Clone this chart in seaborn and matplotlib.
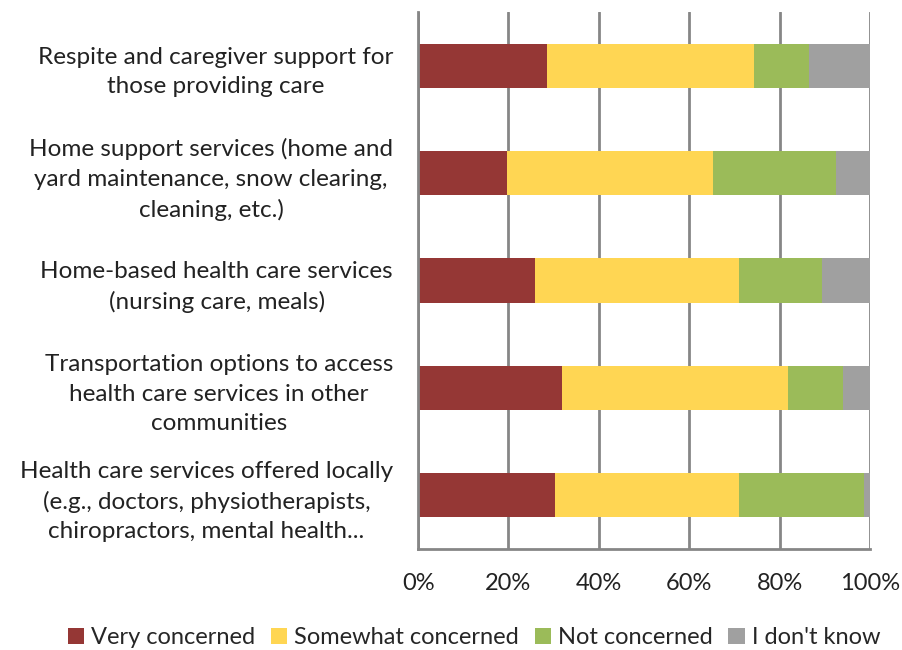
import pandas as pd
import matplotlib.pyplot as plt
import seaborn as sns
from matplotlib.patches import Patch

# dados (percentuais)
categorias = [
    "Respite and caregiver support for\nthose providing care",
    "Home support services (home and\nyard maintenance, snow clearing,\ncleaning, etc.)",
    "Home-based health care services\n(nursing care, meals)",
    "Transportation options to access\nhealth care services in other\ncommunities",
    "Health care services offered locally\n(e.g., doctors, physiotherapists,\nchiropractors, mental health...",
]
very_concerned = [28.6, 19.6, 25.9, 31.8, 30.4]
somewhat_concerned = [45.7, 45.6, 45.2, 50.1, 40.7]
not_concerned = [12.1, 27.3, 18.2, 12.1, 27.6]
dont_know = [13.6, 7.5, 10.7, 6.0, 1.3]

series_nomes = ["Very concerned", "Somewhat concerned", "Not concerned", "I don't know"]
cores = ["#953735", "#FFD653", "#9BBB59", "#A0A0A0"]

sns.set_style("white")
plt.rcParams["font.family"] = ["Lato", "DejaVu Sans"]

df = pd.DataFrame({
    "cat": categorias,
    "very": very_concerned,
    "some": somewhat_concerned,
    "notc": not_concerned,
    "dk": dont_know,
})
# somas acumuladas para empilhar
df["c1"] = df["very"]
df["c2"] = df["c1"] + df["some"]
df["c3"] = df["c2"] + df["notc"]
df["c4"] = df["c3"] + df["dk"]

fig = plt.figure(figsize=(9.03, 6.5), dpi=100)
ax = fig.add_axes([0.463, 0.1554, 0.5005, 0.8261])

# desenha do maior para o menor
for col, cor in zip(["c4", "c3", "c2", "c1"], cores[::-1]):
    sns.barplot(data=df, x=col, y="cat", color=cor, width=0.41, saturation=1,
                linewidth=0, errorbar=None, ax=ax, orient="h")

ax.set_xlim(0, 100)
ax.set_ylim(4.5, -0.5)
ax.set_xticks(range(0, 101, 20))
ax.set_xticklabels([f"{v}%" for v in range(0, 101, 20)], fontsize=17)
ax.set_yticks(range(len(categorias)))
ax.set_yticklabels(categorias, fontsize=17.5, multialignment="center", linespacing=1.5)
ax.set_yticks([i - 0.5 for i in range(len(categorias) + 1)], minor=True)
ax.set_xlabel("")
ax.set_ylabel("")

ax.set_axisbelow(True)
ax.grid(axis="x", color="#868686", linewidth=2)
ax.grid(axis="y", visible=False)
for lado in ["top", "right"]:
    ax.spines[lado].set_visible(False)
for lado in ["left", "bottom"]:
    ax.spines[lado].set_color("#868686")
    ax.spines[lado].set_linewidth(2)

ax.tick_params(axis="y", which="major", length=0, pad=18)
ax.tick_params(axis="y", which="minor", length=8, width=2, color="#868686", direction="out")
ax.tick_params(axis="x", length=8, width=2, color="#868686", direction="out", pad=9)
ax.tick_params(axis="both", which="both", labelcolor="#222222")

handles = [Patch(facecolor=c, edgecolor="none") for c in cores]
fig.legend(handles, series_nomes, loc="lower center", bbox_to_anchor=(0.525, -0.03),
           ncol=4, frameon=False, fontsize=17, handlelength=0.7, handleheight=0.7,
           handletextpad=0.3, columnspacing=0.65)

fig.savefig("out.png", dpi=100)
